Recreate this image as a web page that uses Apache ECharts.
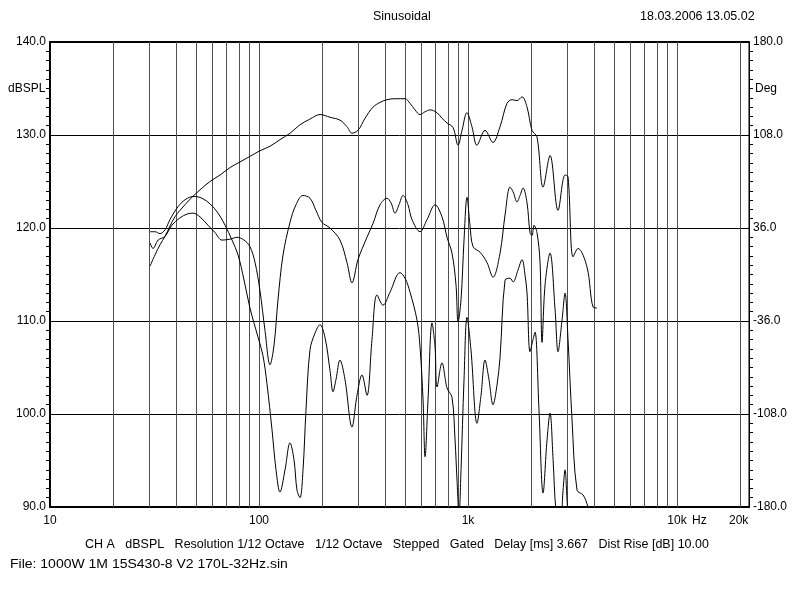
<!DOCTYPE html>
<html>
<head>
<meta charset="utf-8">
<script src="https://cdn.jsdelivr.net/npm/echarts@6/dist/echarts.min.js"></script>
<style>
html,body{margin:0;padding:0;background:#fff;}
#c{width:800px;height:600px;}
</style>
</head>
<body>
<div id="c"></div>
<script>
// Fundamental SPL (Hz, dBSPL)
const freqSPL = [30.1,31.8,33.6,35.5,37.5,39.6,41.9,46.8,52.2,58.3,65.1,72.7,81.1,90.5,101,113,126,141,157,175,196,219,244,263.5,278.5,297.6,321.5,351.3,379.3,409.6,447.6,499.7,527.8,557.9,589.4,623,658,710.6,750.8,793.4,848,896,936,988,1044,1103,1206,1317,1423,1537,1624,1716,1813,1916,2024,2138,2286,2469,2696,2913,3010,3182,3360,3710,3966,4143];
const levelSPL = [115.9,117.1,118.2,119.1,120.2,121.2,121.9,123.1,124.1,125.0,125.7,126.5,127.1,127.7,128.3,128.8,129.5,130.2,131.1,131.7,132.2,131.9,131.6,130.9,130.2,130.5,131.8,133.0,133.5,133.8,133.9,133.9,133.4,132.7,132.2,132.5,132.7,132.4,131.8,131.3,130.8,128.9,130.5,132.4,130.9,128.9,130.5,129.2,130.9,133.4,133.8,133.7,134.1,133.0,130.5,129.8,124.4,127.8,121.9,125.7,125.5,116.9,117.8,115.8,111.5,111.4];

// Distortion curve B (Hz, dBSPL, +10 dB rise)
const freqB = [30.1,31.8,33.6,35.5,37.5,41.0,44.7,48.9,53.3,58.3,63.7,68.8,74.3,79.4,84.8,90.5,98.8,104.4,109.1,115.4,120.6,126,133.2,140.7,147.0,152.0,157.1,162.4,167.8,175.4,185.4,195.8,207.0,218.6,226.0,233.5,244,257.9,278.5,294.3,310.9,328.5,347.2,366.9,392.2,423.5,472.8,499.7,527.8,570.0,589.4,609.4,623.0,643.6,672.5,695.5,710.6,750.8,793.4,838.2,867.0,885.8,905.8,925.9,957.0,989.1,1033,1104,1154,1206,1260,1317,1376,1423,1504,1589,1643,1735,1813,1875,1916,1980,2047,2093,2186,2286,2388,2469,2553,2637,2756,2850,2913,2976,3043];
const levelB = [119.6,119.6,119.4,119.8,120.9,122.3,123.1,123.4,123.2,122.6,121.6,120.3,118.7,117.1,114.4,111.4,108.3,106.3,103.3,98.3,94.0,91.6,94.0,96.9,95.1,91.8,91.0,94.0,100.4,106.9,108.7,109.6,108.2,104.7,102.4,103.7,105.8,103.7,98.6,102.0,104.2,102.0,108.0,112.8,111.7,113.1,115.2,114.6,113.1,110.1,107.2,101.5,95.4,101.5,109.8,107.2,102.9,105.5,102.8,101.8,97.2,92.9,89.1,94.0,103.7,110.4,106.9,99.0,102.0,105.8,103.7,101.0,103.1,106.1,114.4,114.6,114.2,115.5,116.6,114.9,113.0,106.7,108.0,108.8,100.4,91.5,97.2,100.1,95.1,89.5,87.5,91.8,94.0,90.8,87.5];

// Distortion curve C (Hz, dBSPL, +10 dB rise)
const freqC = [30.1,31.1,32.9,35.5,38.3,41.9,45.3,48.4,52.2,57.0,61.6,66.5,72.7,78.5,84.8,90.5,95.7,101,106.8,112.9,118.0,123.3,130.3,140.7,150.3,162.4,175.4,187.3,200.1,218.6,244,263.5,278.5,297.6,328.5,351.3,379.3,409.6,428.2,447.6,467.5,488.9,516.3,539.4,589.4,636.6,695.5,750.8,793.4,838.2,876.0,896.1,925.9,957.0,989.1,1022,1057,1141,1232,1317,1423,1504,1589,1643,1716,1774,1834,1916,1980,2024,2069,2138,2211,2260,2337,2469,2610,2696,2817,2913,3010,3145,3323,3553,3753,3836];
const levelC = [118.4,117.8,118.7,119.1,120.3,121.1,121.5,121.6,121.2,120.3,119.5,118.7,118.8,119.0,118.7,118.0,116.3,113.3,109.0,105.3,107.4,112.3,117.1,120.6,122.5,123.5,123.2,121.9,120.6,120.0,118.7,116.3,114.1,116.6,119.0,120.5,122.5,123.2,122.7,121.6,122.5,123.5,122.5,120.9,119.6,120.9,122.5,121.2,119.0,117.3,113.9,109.9,112.3,118.7,123.3,120.3,118.0,117.4,116.3,114.7,117.3,121.4,124.4,123.9,122.8,123.5,124.3,122.7,119.5,119.2,120.3,119.5,116.3,107.7,113.9,117.3,111.2,106.7,110.1,113.0,108.0,99.4,91.8,91.3,90.0,89.1];

// Vertical grid frequencies
const gridFreqs = [20,30,40,50,60,70,80,90,100,200,300,400,500,600,700,800,900,1000,2000,3000,4000,5000,6000,7000,8000,9000,10000,20000];
const xTickLabels = {10:'10',100:'100',1000:'1k',10000:'10k'};
const leftMin = 90, leftMax = 140, leftStep = 10;
const rightMin = -180, rightMax = 180, rightStep = 72;
const footerText = 'CH A   dBSPL   Resolution 1/12 Octave   1/12 Octave   Stepped   Gated   Delay [ms] 3.667   Dist Rise [dB] 10.00';
const fileText = 'File: 1000W 1M 15S430-8 V2 170L-32Hz.sin';

const FONT = 'Liberation Sans';
const chart = echarts.init(document.getElementById('c'), null, {renderer:'canvas'});

function line(name, fx, fy){
  return {
    name, type:'line', xAxisIndex:0, yAxisIndex:0,
    data: fx.map((f,i)=>[f, fy[i]]),
    showSymbol:false, smooth:0.35, clip:true,
    lineStyle:{color:'#000', width:1}, silent:true, animation:false, z:5
  };
}

const series = [
  line('SPL', freqSPL, levelSPL),
  line('B', freqB, levelB),
  line('C', freqC, levelC),
  {
    type:'line', data:[], xAxisIndex:0, yAxisIndex:0, silent:true, animation:false,
    markLine:{
      silent:true, symbol:'none', animation:false,
      label:{show:false},
      lineStyle:{color:'#505050', width:1, type:'solid'},
      data: gridFreqs.map(f=>({xAxis:f}))
    }
  }
];

const txt = (t,x,y,fs,sx)=>({type:'text', x:x, y:y, scaleX:sx||1, originX:0, originY:0,
  style:{text:t, fontSize:fs||12.5, fontFamily:FONT, fill:'#000'}});

chart.setOption({
  animation:false,
  backgroundColor:'#fff',
  textStyle:{fontFamily:FONT},
  grid:{left:50, right:51, top:42, bottom:93, show:true, borderColor:'#000', borderWidth:1},
  xAxis:[{
    type:'log', logBase:10, min:10, max:22100,
    axisLine:{show:true, onZero:false, lineStyle:{color:'#000', width:2}},
    axisTick:{show:false},
    splitLine:{show:false},
    axisLabel:{
      color:'#000', fontSize:12, fontFamily:FONT, margin:8,
      showMaxLabel:false,
      formatter:v=> xTickLabels[Math.round(v)] || ''
    }
  },{
    type:'log', logBase:10, min:10, max:22100, position:'top',
    axisLine:{show:true, onZero:false, lineStyle:{color:'#000', width:2}},
    axisTick:{show:false}, axisLabel:{show:false}, splitLine:{show:false}
  }],
  yAxis:[
    {
      type:'value', min:leftMin, max:leftMax, interval:leftStep, position:'left',
      axisLine:{show:true, onZero:false, lineStyle:{color:'#000', width:2}},
      axisTick:{show:false},
      minorTick:{show:true, splitNumber:10, length:4, lineStyle:{color:'#000'}},
      splitLine:{show:true, lineStyle:{color:'#000', width:1}},
      axisLabel:{color:'#000', fontSize:12, fontFamily:FONT, margin:4, formatter:v=>v.toFixed(1)}
    },
    {
      type:'value', min:rightMin, max:rightMax, interval:rightStep, position:'right',
      axisLine:{show:true, onZero:false, lineStyle:{color:'#000', width:1}},
      axisTick:{show:false},
      minorTick:{show:true, splitNumber:10, length:4, lineStyle:{color:'#000'}},
      splitLine:{show:false},
      axisLabel:{color:'#000', fontSize:12, fontFamily:FONT, margin:4, formatter:v=>v.toFixed(1)}
    }
  ],
  graphic:[
    txt('Sinusoidal',373,10),
    txt('18.03.2006 13.05.02',640,10),
    txt('dBSPL',8,83,12),
    txt('Deg',755,83,12),
    txt('Hz',692,515,12),
    txt('20k',729,515,12),
    txt(footerText,85,538),
    txt(fileText,10,558,12.5,1.12)
  ],
  series
});
</script>
</body>
</html>
